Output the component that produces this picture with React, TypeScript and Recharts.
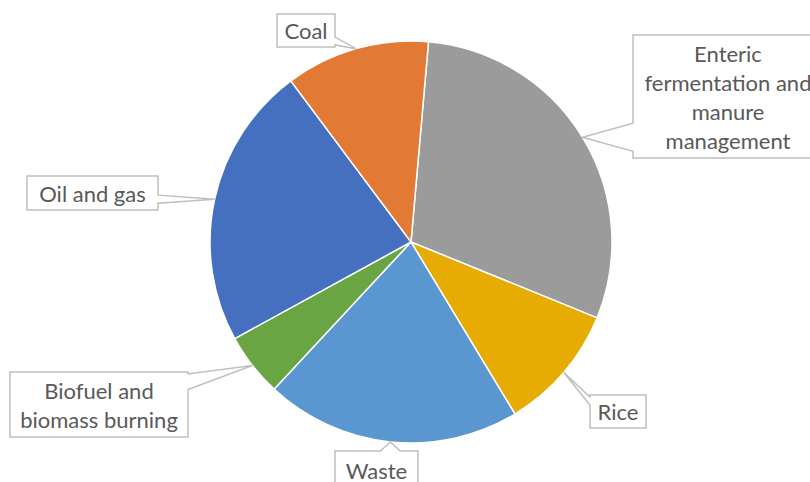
import { Cell, Pie, PieChart } from 'recharts'

const categories = [
  'Enteric fermentation and manure management',
  'Rice',
  'Waste',
  'Biofuel and biomass burning',
  'Oil and gas',
  'Coal',
]
const shares = [29.8, 10.2, 20.6, 5.1, 22.8, 11.6]
const labelLines = [
  ['Enteric', 'fermentation and', 'manure', 'management'],
  ['Rice'],
  ['Waste'],
  ['Biofuel and', 'biomass burning'],
  ['Oil and gas'],
  ['Coal'],
]
const colors = ['#9B9B9B', '#E7AC03', '#5A96CF', '#6AA544', '#4570C0', '#E27A35']

const data = categories.map((name, i) => ({ name, value: shares[i] }))

// label box centre offsets from the pie centre, plus box size
const boxes = [
  { dx: 317, dy: -145.5, w: 190, h: 123 },
  { dx: 207, dy: 169.5, w: 56, h: 33 },
  { dx: -34.5, dy: 228, w: 83, h: 38 },
  { dx: -312, dy: 162.5, w: 178, h: 65 },
  { dx: -318.5, dy: -49, w: 131, h: 34 },
  { dx: -105, dy: -211.5, w: 58, h: 33 },
]

const RAD = Math.PI / 180
const clamp = (v: number, a: number, b: number) => Math.max(a, Math.min(b, v))

function calloutPath(x0: number, y0: number, x1: number, y1: number, tx: number, ty: number) {
  const outX = tx < x0 ? x0 - tx : tx > x1 ? tx - x1 : 0
  const outY = ty < y0 ? y0 - ty : ty > y1 ? ty - y1 : 0
  const rect = `M${x0},${y0}H${x1}V${y1}H${x0}Z`
  if (outX === 0 && outY === 0) return rect
  if (outX >= outY) {
    const side = y1 - y0
    const hw = clamp(side * 0.12, 3, 14)
    const c = clamp(ty, y0 + hw + 2, y1 - hw - 2)
    if (tx > x1) return `M${x0},${y0}H${x1}V${c - hw}L${tx},${ty}L${x1},${c + hw}V${y1}H${x0}Z`
    return `M${x0},${y0}H${x1}V${y1}H${x0}V${c + hw}L${tx},${ty}L${x0},${c - hw}Z`
  }
  const side = x1 - x0
  const hw = clamp(side * 0.12, 3, 14)
  const c = clamp(tx, x0 + hw + 2, x1 - hw - 2)
  if (ty < y0) return `M${x0},${y0}H${c - hw}L${tx},${ty}L${c + hw},${y0}H${x1}V${y1}H${x0}Z`
  return `M${x0},${y0}H${x1}V${y1}H${c + hw}L${tx},${ty}L${c - hw},${y1}H${x0}Z`
}

function CalloutLabel(props: any) {
  const { cx, cy, midAngle, outerRadius, index } = props
  const b = boxes[index]
  const lines = labelLines[index]
  const tx = cx + Math.cos(-midAngle * RAD) * outerRadius
  const ty = cy + Math.sin(-midAngle * RAD) * outerRadius
  const bx = cx + b.dx
  const by = cy + b.dy
  const x0 = bx - b.w / 2
  const y0 = by - b.h / 2
  const lh = 29
  const first = by - ((lines.length - 1) * lh) / 2
  return (
    <g>
      <path d={calloutPath(x0, y0, x0 + b.w, y0 + b.h, tx, ty)} fill="#fff" stroke="#BFBFBF" strokeWidth={1.5} />
      {lines.map((t, i) => (
        <text
          key={i}
          x={bx}
          y={first + i * lh}
          textAnchor="middle"
          dominantBaseline="central"
          fill="#595959"
          fontSize={22}
          fontFamily="Lato, 'Open Sans', sans-serif"
        >
          {t}
        </text>
      ))}
    </g>
  )
}

export default function App() {
  return (
    <div style={{ position: 'absolute', left: 0, top: 0, width: 810, height: 482, background: '#fff' }}>
      <PieChart width={810} height={482} margin={{ top: 0, right: 0, bottom: 0, left: 0 }}>
        <Pie
          data={data}
          dataKey="value"
          nameKey="name"
          cx={411}
          cy={242}
          outerRadius={201}
          startAngle={85}
          endAngle={-275}
          stroke="#fff"
          strokeWidth={1.5}
          label={CalloutLabel}
          labelLine={false}
          isAnimationActive={false}
        >
          {data.map((d, i) => (
            <Cell key={d.name} fill={colors[i]} />
          ))}
        </Pie>
      </PieChart>
    </div>
  )
}
